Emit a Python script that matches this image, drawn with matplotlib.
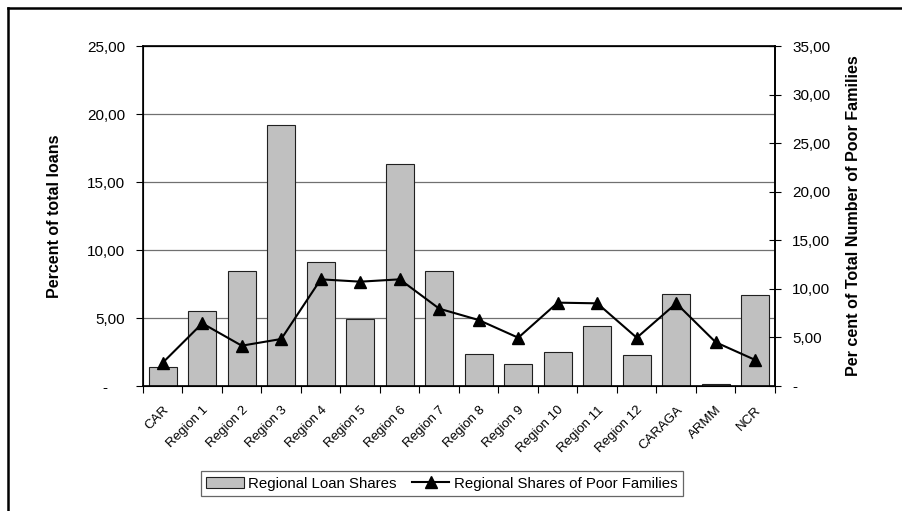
"""
Regional loan shares against regional shares of poor families
"""
import matplotlib

matplotlib.use("Agg")
import matplotlib.pyplot as plt
import numpy as np
from matplotlib.lines import Line2D
from matplotlib.ticker import FuncFormatter, MultipleLocator

plt.rcParams["font.family"] = ["Liberation Sans", "DejaVu Sans"]

regions = [
    "CAR", "Region 1", "Region 2", "Region 3", "Region 4", "Region 5",
    "Region 6", "Region 7", "Region 8", "Region 9", "Region 10",
    "Region 11", "Region 12", "CARAGA", "ARMM", "NCR",
]
loan_shares = [
    1.37, 5.49, 8.48, 19.17, 9.14, 4.90, 16.30, 8.43,
    2.33, 1.64, 2.48, 4.39, 2.26, 6.74, 0.15, 6.67,
]
poor_shares = [
    2.40, 6.45, 4.15, 4.84, 10.98, 10.74, 10.98, 7.96,
    6.79, 4.97, 8.58, 8.51, 4.97, 8.51, 4.50, 2.68,
]


def comma_fmt(v, pos):
    if abs(v) < 1e-9:
        return "-"
    return f"{v:.2f}".replace(".", ",")


def comma_fmt_left(v, pos):
    if abs(v) < 1e-9:
        return "-    "
    return f"{v:.2f}".replace(".", ",")


fig = plt.figure(figsize=(9.03, 5.11), dpi=100)
ax = fig.add_axes([143 / 903, 1 - 386 / 511, 632 / 903, 340 / 511])
x = np.arange(len(regions))

ax.bar(x, loan_shares, width=0.71, color="#c0c0c0", edgecolor="#202020",
       linewidth=0.8, zorder=2, label="Regional Loan Shares")
ax.set_xlim(-0.5, len(regions) - 0.5)
ax.set_ylim(0, 25)
ax.yaxis.set_major_locator(MultipleLocator(5))
ax.yaxis.set_major_formatter(FuncFormatter(comma_fmt_left))
ax.grid(axis="y", color="#707070", linewidth=0.9, zorder=0)
ax.set_axisbelow(True)

ax.set_xticks(x)
ax.set_xticklabels(regions, rotation=45, ha="right", va="top",
                   rotation_mode="anchor", fontsize=9.5)
ax.set_xticks(np.arange(-0.5, len(regions)), minor=True)
ax.tick_params(axis="x", which="major", length=0, pad=13)
ax.tick_params(axis="x", which="minor", length=5, width=0.8, direction="out")
ax.tick_params(axis="y", length=5, width=0.8, labelsize=11, pad=8)
ax.set_ylabel("Percent of total loans", fontsize=11.5, fontweight="bold",
              labelpad=18)
for side in ("top", "right", "left", "bottom"):
    ax.spines[side].set_linewidth(1.2)

ax2 = ax.twinx()
ax2.plot(x, poor_shares, color="black", linewidth=1.5, marker="^",
         markersize=8.5, label="Regional Shares of Poor Families", zorder=3)
ax2.set_ylim(0, 35)
ax2.yaxis.set_major_locator(MultipleLocator(5))
ax2.yaxis.set_major_formatter(FuncFormatter(comma_fmt))
ax2.tick_params(axis="y", direction="inout", length=9, width=0.8,
                labelsize=11, pad=8)
ax2.set_ylabel("Per cent of Total Number of Poor Families", fontsize=11.6,
               fontweight="bold", labelpad=11)
ax2.spines["right"].set_linewidth(1.2)

handles = ax.get_legend_handles_labels()[0] + ax2.get_legend_handles_labels()[0]
labels = ["Regional Loan Shares", "Regional Shares of Poor Families"]
leg = fig.legend(handles, labels, loc="center", ncol=2,
                 bbox_to_anchor=(442 / 903, 1 - 483.5 / 511), fontsize=10.8,
                 frameon=True, fancybox=False, edgecolor="#404040",
                 handlelength=2.5, handletextpad=0.3, columnspacing=1.0,
                 borderpad=0.35)
leg.get_frame().set_linewidth(0.9)

# outer chart frame
fx, fy = 8 / 903, 1 - 8 / 511
fig.add_artist(Line2D([fx, fx], [0, fy], color="black", linewidth=1.8,
                      transform=fig.transFigure))
fig.add_artist(Line2D([fx, 1], [fy, fy], color="black", linewidth=1.8,
                      transform=fig.transFigure))

fig.savefig("out.png", dpi=100)
